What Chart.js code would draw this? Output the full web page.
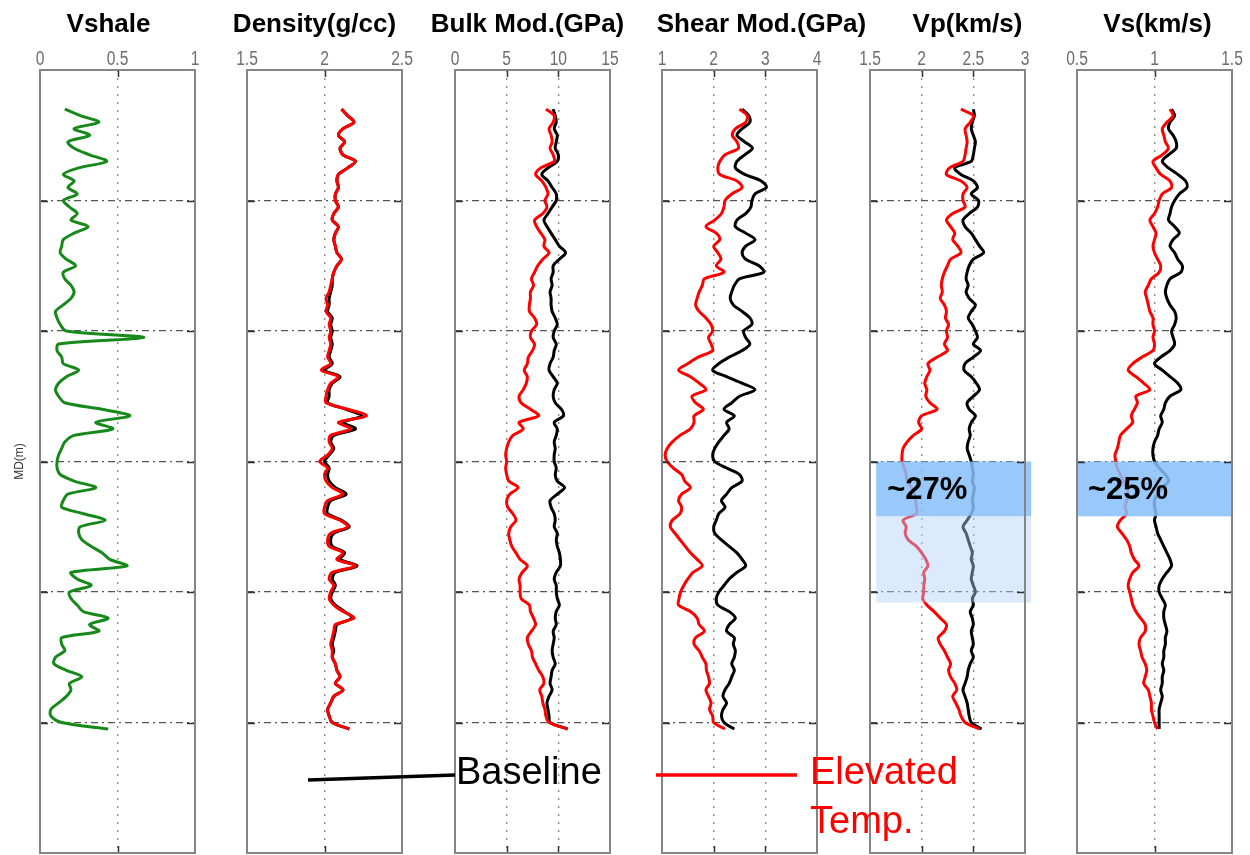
<!DOCTYPE html>
<html>
<head>
<meta charset="utf-8">
<title>Well logs</title>
<script src="https://cdn.jsdelivr.net/npm/chart.js@4.4.1/dist/chart.umd.min.js"></script>
<style>
  html, body { margin: 0; padding: 0; background: #fff; }
  #wrap { position: relative; width: 1250px; height: 855px; overflow: hidden; }
  #wrap canvas { position: absolute; top: 0; }
  #wrap svg { position: absolute; left: 0; top: 0; }
  .key { position: absolute; font-family: "Liberation Sans", Arial, sans-serif; font-size: 38px; line-height: 49px; white-space: nowrap; }
</style>
</head>
<body>
<div id="wrap"></div>
<script>
// measured depth, one sample every 0.5 m
const md = [
  3, 3.5, 4, 4.5, 5, 5.5, 6, 6.5, 7, 7.5,
  8, 8.5, 9, 9.5, 10, 10.5, 11, 11.5, 12, 12.5,
  13, 13.5, 14, 14.5, 15, 15.5, 16, 16.5, 17, 17.5,
  18, 18.5, 19, 19.5, 20, 20.5, 21, 21.5, 22, 22.5,
  23, 23.5, 24, 24.5, 25, 25.5, 26, 26.5, 27, 27.5,
  28, 28.5, 29, 29.5, 30, 30.5, 31, 31.5, 32, 32.5,
  33, 33.5, 34, 34.5, 35, 35.5, 36, 36.5, 37, 37.5,
  38, 38.5, 39, 39.5, 40, 40.5, 41, 41.5, 42, 42.5,
  43, 43.5, 44, 44.5, 45, 45.5, 46, 46.5, 47, 47.5,
  48, 48.5, 49, 49.5, 50, 50.5
];

const vshale = [
  0.16, 0.26, 0.38, 0.22, 0.32, 0.18, 0.22, 0.32, 0.43, 0.25,
  0.15, 0.22, 0.18, 0.24, 0.15, 0.19, 0.24, 0.20, 0.31, 0.22,
  0.15, 0.14, 0.13, 0.17, 0.23, 0.15, 0.16, 0.20, 0.22, 0.20,
  0.15, 0.10, 0.11, 0.13, 0.17, 0.67, 0.12, 0.11, 0.14, 0.15,
  0.25, 0.17, 0.12, 0.10, 0.12, 0.16, 0.40, 0.58, 0.36, 0.47,
  0.22, 0.16, 0.14, 0.12, 0.11, 0.11, 0.13, 0.22, 0.36, 0.18,
  0.15, 0.14, 0.28, 0.42, 0.26, 0.25, 0.27, 0.33, 0.40, 0.45,
  0.56, 0.20, 0.24, 0.33, 0.19, 0.20, 0.24, 0.28, 0.44, 0.32,
  0.38, 0.14, 0.14, 0.16, 0.10, 0.09, 0.17, 0.27, 0.19, 0.20,
  0.17, 0.12, 0.07, 0.07, 0.14, 0.44
];

// density (g/cc)
const densHot = [
  2.11, 2.15, 2.19, 2.12, 2.09, 2.13, 2.10, 2.12, 2.20, 2.15,
  2.09, 2.08, 2.09, 2.07, 2.07, 2.09, 2.06, 2.05, 2.09, 2.07,
  2.06, 2.07, 2.08, 2.11, 2.08, 2.06, 2.05, 2.04, 2.03, 2.01,
  2.02, 2.01, 2.04, 2.03, 2.04, 2.03, 2.04, 2.03, 2.02, 2.04,
  1.98, 2.09, 2.04, 2.02, 2.01, 2.01, 2.15, 2.27, 2.09, 2.17,
  2.04, 2.03, 2.05, 2.02, 1.97, 2.02, 2.00, 2.01, 2.05, 2.12,
  2.02, 2.00, 2.00, 2.10, 2.15, 2.04, 2.02, 2.03, 2.12, 2.08,
  2.20, 2.05, 2.03, 2.06, 2.04, 2.03, 2.06, 2.12, 2.19, 2.07,
  2.06, 2.05, 2.04, 2.05, 2.05, 2.07, 2.08, 2.10, 2.07, 2.12,
  2.06, 2.04, 2.02, 2.03, 2.05, 2.16
];
const densBase = [
  2.11, 2.15, 2.19, 2.12, 2.09, 2.13, 2.10, 2.12, 2.20, 2.15,
  2.09, 2.08, 2.09, 2.07, 2.07, 2.09, 2.06, 2.05, 2.09, 2.07,
  2.06, 2.07, 2.08, 2.11, 2.08, 2.06, 2.05, 2.05, 2.04, 2.03,
  2.03, 2.02, 2.05, 2.04, 2.05, 2.04, 2.05, 2.04, 2.03, 2.05,
  2.00, 2.10, 2.05, 2.03, 2.03, 2.02, 2.14, 2.24, 2.12, 2.20,
  2.06, 2.04, 2.06, 2.03, 2.00, 2.03, 2.02, 2.03, 2.07, 2.14,
  2.04, 2.02, 2.02, 2.11, 2.16, 2.06, 2.04, 2.05, 2.13, 2.10,
  2.21, 2.07, 2.05, 2.07, 2.05, 2.04, 2.07, 2.13, 2.18, 2.08,
  2.07, 2.06, 2.05, 2.06, 2.05, 2.07, 2.08, 2.10, 2.07, 2.12,
  2.06, 2.04, 2.02, 2.03, 2.05, 2.16
];

// bulk modulus (GPa)
const bulkHot = [
  8.8, 9.6, 9.5, 9.1, 9.3, 9.4, 9.2, 9.5, 9.6, 8.3,
  7.8, 8.4, 8.8, 9.0, 8.7, 8.9, 8.5, 7.7, 7.9, 8.3,
  8.7, 8.6, 9.1, 8.5, 8.0, 7.7, 7.4, 7.6, 7.3, 7.3,
  7.2, 7.2, 7.7, 7.9, 7.4, 7.3, 7.7, 7.5, 7.1, 7.0,
  6.7, 7.0, 6.9, 6.6, 6.2, 6.4, 7.3, 8.1, 6.2, 6.6,
  5.6, 5.2, 5.0, 4.9, 5.0, 4.9, 5.0, 5.2, 6.1, 5.3,
  5.0, 5.1, 5.6, 5.9, 5.4, 5.2, 5.3, 5.5, 5.9, 6.3,
  7.0, 6.5, 6.2, 6.3, 6.3, 6.4, 7.2, 7.3, 7.6, 7.8,
  7.4, 7.0, 7.1, 7.4, 7.5, 7.8, 8.1, 8.5, 8.6, 8.2,
  8.4, 8.5, 8.7, 8.8, 9.1, 10.9
];
const bulkBase = [
  9.5, 9.7, 9.8, 9.6, 9.9, 9.8, 9.7, 10.0, 9.9, 9.0,
  8.4, 9.0, 9.4, 9.8, 9.8, 9.4, 9.0, 8.6, 8.9, 9.3,
  9.7, 10.1, 10.7, 10.1, 9.5, 9.5, 9.3, 9.4, 9.2, 9.3,
  9.3, 9.4, 9.7, 9.9, 9.6, 9.5, 9.8, 9.6, 9.5, 9.2,
  9.1, 9.5, 9.9, 9.6, 9.5, 9.7, 10.3, 10.5, 9.6, 9.9,
  9.8, 9.6, 9.7, 9.6, 9.6, 9.8, 9.7, 9.9, 10.6, 9.9,
  9.2, 9.3, 9.6, 9.7, 9.6, 9.9, 9.8, 9.9, 10.1, 10.2,
  10.2, 9.8, 9.6, 9.8, 9.8, 9.9, 10.1, 9.8, 9.7, 9.8,
  9.5, 9.6, 9.5, 9.4, 9.5, 9.7, 9.4, 9.3, 9.2, 9.4,
  9.1, 8.9, 9.0, 9.1, 9.2, 10.9
];

// shear modulus (GPa)
const shearHot = [
  2.50, 2.65, 2.62, 2.42, 2.36, 2.45, 2.48, 2.22, 2.12, 2.08,
  2.12, 2.45, 2.55, 2.35, 2.22, 2.20, 2.15, 2.02, 1.85, 2.05,
  2.12, 2.00, 2.08, 2.14, 2.05, 2.20, 1.82, 1.78, 1.72, 1.68,
  1.65, 1.72, 1.85, 1.95, 1.98, 1.90, 1.95, 1.98, 1.70, 1.50,
  1.32, 1.55, 1.72, 1.85, 1.58, 1.65, 1.80, 1.62, 1.62, 1.55,
  1.35, 1.20, 1.10, 1.06, 1.10, 1.22, 1.38, 1.44, 1.55, 1.38,
  1.32, 1.38, 1.35, 1.20, 1.16, 1.25, 1.35, 1.45, 1.55, 1.68,
  1.78, 1.60, 1.50, 1.42, 1.36, 1.33, 1.32, 1.55, 1.68, 1.72,
  1.82, 1.65, 1.62, 1.72, 1.78, 1.85, 1.86, 1.90, 1.92, 1.85,
  1.90, 1.95, 1.92, 1.98, 2.00, 2.22
];
const shearBase = [
  2.55, 2.68, 2.70, 2.55, 2.45, 2.60, 2.75, 2.60, 2.45, 2.42,
  2.60, 2.92, 3.02, 2.80, 2.74, 2.72, 2.62, 2.45, 2.42, 2.62,
  2.80, 2.62, 2.55, 2.62, 2.88, 2.97, 2.50, 2.40, 2.35, 2.32,
  2.38, 2.55, 2.70, 2.74, 2.58, 2.62, 2.70, 2.55, 2.30, 2.10,
  1.98, 2.25, 2.55, 2.80, 2.50, 2.35, 2.20, 2.40, 2.25, 2.30,
  2.20, 2.10, 2.02, 1.98, 2.02, 2.25, 2.50, 2.55, 2.35, 2.25,
  2.15, 2.22, 2.10, 2.05, 2.00, 2.02, 2.15, 2.30, 2.45, 2.55,
  2.62, 2.45, 2.30, 2.20, 2.10, 2.05, 2.08, 2.30, 2.42, 2.30,
  2.25, 2.40, 2.38, 2.42, 2.40, 2.35, 2.40, 2.35, 2.30, 2.22,
  2.18, 2.25, 2.18, 2.15, 2.20, 2.40
];

// P-wave velocity (km/s)
const vpHot = [
  2.38, 2.50, 2.47, 2.42, 2.43, 2.44, 2.43, 2.42, 2.40, 2.27,
  2.24, 2.38, 2.44, 2.40, 2.40, 2.42, 2.30, 2.24, 2.28, 2.32,
  2.30, 2.35, 2.38, 2.28, 2.25, 2.22, 2.20, 2.19, 2.20, 2.18,
  2.22, 2.24, 2.23, 2.26, 2.24, 2.25, 2.22, 2.25, 2.15, 2.06,
  2.08, 2.05, 2.03, 2.05, 2.04, 2.08, 2.15, 2.00, 1.97, 2.00,
  1.92, 1.86, 1.82, 1.81, 1.81, 1.83, 1.85, 1.86, 1.90, 1.93,
  1.94, 1.95, 1.95, 1.82, 1.85, 1.84, 1.87, 1.95, 2.00, 2.04,
  2.06, 2.02, 2.03, 2.02, 2.02, 2.01, 2.05, 2.12, 2.18, 2.24,
  2.22, 2.16, 2.18, 2.22, 2.25, 2.28, 2.26, 2.28, 2.32, 2.34,
  2.30, 2.33, 2.36, 2.38, 2.42, 2.56
];
const vpBase = [
  2.50, 2.51, 2.49, 2.48, 2.50, 2.52, 2.51, 2.50, 2.48, 2.32,
  2.38, 2.50, 2.54, 2.48, 2.55, 2.54, 2.46, 2.40, 2.42, 2.48,
  2.52, 2.56, 2.60, 2.50, 2.46, 2.44, 2.43, 2.45, 2.43, 2.46,
  2.52, 2.48, 2.45, 2.49, 2.52, 2.54, 2.50, 2.57, 2.50, 2.42,
  2.41, 2.48, 2.53, 2.56, 2.50, 2.44, 2.46, 2.52, 2.48, 2.46,
  2.47, 2.45, 2.44, 2.46, 2.48, 2.49, 2.50, 2.49, 2.51, 2.50,
  2.49, 2.50, 2.48, 2.44, 2.40, 2.43, 2.45, 2.47, 2.49, 2.48,
  2.50, 2.49, 2.48, 2.50, 2.52, 2.49, 2.50, 2.47, 2.49, 2.50,
  2.48, 2.49, 2.50, 2.48, 2.50, 2.47, 2.45, 2.44, 2.42, 2.40,
  2.42, 2.44, 2.45, 2.46, 2.48, 2.58
];

// S-wave velocity (km/s)
const vsHot = [
  1.10, 1.12, 1.08, 1.05, 1.06, 1.07, 1.09, 1.05, 0.99, 1.01,
  1.04, 1.10, 1.11, 1.05, 1.03, 1.02, 1.00, 0.97, 0.99, 1.01,
  1.00, 0.99, 1.00, 1.02, 1.04, 1.03, 0.98, 0.96, 0.94, 0.95,
  0.96, 0.97, 0.99, 0.99, 1.00, 0.99, 1.00, 0.99, 0.92, 0.86,
  0.83, 0.88, 0.93, 0.97, 0.88, 0.89, 0.87, 0.85, 0.86, 0.82,
  0.78, 0.77, 0.76, 0.745, 0.75, 0.76, 0.78, 0.80, 0.82, 0.83,
  0.82, 0.81, 0.82, 0.78, 0.76, 0.79, 0.82, 0.84, 0.85, 0.87,
  0.90, 0.86, 0.84, 0.83, 0.84, 0.85, 0.86, 0.88, 0.91, 0.94,
  0.94, 0.91, 0.90, 0.91, 0.92, 0.94, 0.95, 0.94, 0.93, 0.96,
  0.97, 0.98, 0.98, 0.99, 1.00, 1.02
];
const vsBase = [
  1.11, 1.13, 1.10, 1.09, 1.12, 1.14, 1.14, 1.09, 1.05, 1.09,
  1.15, 1.20, 1.21, 1.16, 1.13, 1.11, 1.10, 1.09, 1.13, 1.16,
  1.12, 1.10, 1.13, 1.15, 1.18, 1.17, 1.10, 1.08, 1.07, 1.08,
  1.10, 1.13, 1.14, 1.13, 1.11, 1.12, 1.13, 1.10, 1.04, 1.00,
  1.05, 1.10, 1.15, 1.17, 1.10, 1.07, 1.06, 1.04, 1.05, 1.03,
  1.02, 1.00, 0.99, 0.99, 1.00, 1.03, 1.07, 1.09, 1.05, 1.02,
  1.00, 1.00, 1.01, 1.00, 1.01, 1.02, 1.04, 1.06, 1.08, 1.10,
  1.11, 1.08, 1.05, 1.03, 1.03, 1.05, 1.07, 1.06, 1.06, 1.07,
  1.08, 1.07, 1.07, 1.06, 1.06, 1.05, 1.06, 1.05, 1.05, 1.04,
  1.05, 1.04, 1.03, 1.03, 1.03, 1.03
];

// zone of velocity drop (depths in m) and its labels
const zoneDepths = [30, 34.2, 40.8];
const zoneLabels = ['~27%', '~25%'];

const GREEN = '#16891a', RED = '#ff0000', BLACK = '#000000';
const PANEL_W = 155, SIDE = 60, TOP = 70;

const tracks = [
  { title: 'Vshale', left: 40, dx: -9, min: 0, max: 1, step: 0.5,
    series: [{ data: vshale, color: GREEN }] },
  { title: 'Density(g/cc)', left: 247, dx: -10, min: 1.5, max: 2.5, step: 0.5,
    series: [{ data: densHot, color: RED }, { data: densBase, color: BLACK }] },
  { title: 'Bulk Mod.(GPa)', left: 455, dx: -5, min: 0, max: 15, step: 5,
    series: [{ data: bulkHot, color: RED }, { data: bulkBase, color: BLACK }] },
  { title: 'Shear Mod.(GPa)', left: 662, dx: 22, min: 1, max: 4, step: 1,
    series: [{ data: shearHot, color: RED }, { data: shearBase, color: BLACK }] },
  { title: 'Vp(km/s)', left: 870, dx: 20, min: 1.5, max: 3, step: 0.5,
    series: [{ data: vpHot, color: RED }, { data: vpBase, color: BLACK }],
    zones: [
      { from: zoneDepths[0], to: zoneDepths[1], xFrom: 1.56, xTo: 3.06, color: 'rgba(135,191,250,0.85)', label: zoneLabels[0] },
      { from: zoneDepths[1], to: zoneDepths[2], xFrom: 1.56, xTo: 3.06, color: 'rgba(175,208,248,0.45)' }
    ] },
  { title: 'Vs(km/s)', left: 1077, dx: 3, min: 0.5, max: 1.5, step: 0.5,
    series: [{ data: vsHot, color: RED }, { data: vsBase, color: BLACK }],
    zones: [
      { from: zoneDepths[0], to: zoneDepths[1], xFrom: 0.5, xTo: 1.5, color: 'rgba(135,191,250,0.85)', label: zoneLabels[1] }
    ] }
];

const isEdge = (scale, v) => Math.abs(v - scale.min) < 1e-9 || Math.abs(v - scale.max) < 1e-9;

// box around the track, short inward tick marks and narrow tick labels on top
const framePlugin = {
  id: 'frame',
  afterDraw(chart) {
    const { ctx, chartArea: a, scales: { x, y } } = chart;
    ctx.save();
    ctx.strokeStyle = '#333';
    ctx.lineWidth = 1.5;
    ctx.beginPath();
    x.ticks.forEach(t => {
      if (isEdge(x, t.value)) return;
      const px = Math.round(x.getPixelForValue(t.value)) + 0.5;
      ctx.moveTo(px, a.top); ctx.lineTo(px, a.top + 7);
      ctx.moveTo(px, a.bottom); ctx.lineTo(px, a.bottom - 7);
    });
    y.ticks.forEach(t => {
      if (isEdge(y, t.value)) return;
      const py = Math.round(y.getPixelForValue(t.value)) + 0.5;
      ctx.moveTo(a.left, py); ctx.lineTo(a.left + 8, py);
      ctx.moveTo(a.right, py); ctx.lineTo(a.right - 8, py);
    });
    ctx.stroke();
    ctx.strokeStyle = '#858585';
    ctx.lineWidth = 2;
    ctx.strokeRect(a.left, a.top, a.right - a.left, a.bottom - a.top);

    ctx.font = '20px "Liberation Sans", Arial, sans-serif';
    ctx.fillStyle = '#6e6e6e';
    ctx.textAlign = 'center';
    ctx.textBaseline = 'alphabetic';
    x.ticks.forEach(t => {
      ctx.save();
      ctx.translate(x.getPixelForValue(t.value), a.top - 5);
      ctx.scale(0.78, 1);
      ctx.fillText(String(+t.value.toFixed(2)), 0, 0);
      ctx.restore();
    });
    ctx.restore();
  }
};

const titlePlugin = {
  id: 'trackTitle',
  afterDraw(chart, args, opts) {
    const { ctx, chartArea: a } = chart;
    ctx.save();
    ctx.font = 'bold 26px "Liberation Sans", Arial, sans-serif';
    ctx.fillStyle = '#000';
    ctx.textAlign = 'center';
    ctx.textBaseline = 'middle';
    ctx.fillText(opts.text, (a.left + a.right) / 2 + opts.dx, 25);
    ctx.restore();
  }
};

// shaded depth zones with the percentage drop written in them
const zonePlugin = {
  id: 'zones',
  afterDatasetsDraw(chart, args, opts) {
    if (!opts.items) return;
    const { ctx, scales: { x, y } } = chart;
    ctx.save();
    opts.items.forEach(z => {
      const x0 = x.getPixelForValue(z.xFrom), x1 = x.getPixelForValue(z.xTo);
      const y0 = y.getPixelForValue(z.from), y1 = y.getPixelForValue(z.to);
      ctx.fillStyle = z.color;
      ctx.fillRect(x0, y0, x1 - x0, y1 - y0);
      if (z.label) {
        ctx.font = 'bold 31px "Liberation Sans", Arial, sans-serif';
        ctx.fillStyle = '#000';
        ctx.textAlign = 'left';
        ctx.textBaseline = 'middle';
        ctx.fillText(z.label, x0 + 11, (y0 + y1) / 2 + 2);
      }
    });
    ctx.restore();
  }
};

const wrap = document.getElementById('wrap');

tracks.forEach((t, i) => {
  const first = i === 0;
  const axisW = first ? 40 : 0;
  const padL = first ? 0 : SIDE;
  const canvas = document.createElement('canvas');
  canvas.width = padL + axisW + PANEL_W + SIDE;
  canvas.height = 855;
  canvas.style.left = (t.left - axisW - padL) + 'px';
  wrap.appendChild(canvas);

  new Chart(canvas, {
    type: 'line',
    data: {
      datasets: t.series.map(s => ({
        data: md.map((d, k) => ({ x: s.data[k], y: d })),
        borderColor: s.color,
        borderWidth: 3,
        pointRadius: 0,
        tension: 0.3,
        fill: false
      }))
    },
    options: {
      responsive: false,
      animation: false,
      indexAxis: 'y',
      events: [],
      layout: { padding: { left: padL, right: SIDE, top: 0, bottom: 2 } },
      plugins: {
        legend: { display: false },
        tooltip: { enabled: false },
        trackTitle: { text: t.title, dx: t.dx },
        zones: { items: t.zones || null }
      },
      scales: {
        x: {
          type: 'linear',
          position: 'top',
          min: t.min,
          max: t.max,
          ticks: { stepSize: t.step, display: false },
          grid: {
            drawTicks: false,
            lineWidth: 1.4,
            color: c => (c.tick && isEdge(c.scale, c.tick.value)) ? 'rgba(0,0,0,0)' : '#8c8c8c'
          },
          border: { display: false, dash: [2, 6] },
          afterFit: s => { s.height = TOP; }
        },
        y: {
          type: 'linear',
          reverse: true,
          min: 0,
          max: 60,
          ticks: { stepSize: 10, display: false },
          grid: {
            drawTicks: false,
            lineWidth: 1.3,
            color: c => (c.tick && isEdge(c.scale, c.tick.value)) ? 'rgba(0,0,0,0)' : '#555'
          },
          border: { display: false, dash: [7, 4, 2, 4] },
          title: {
            display: first,
            text: 'MD(m)',
            color: '#333',
            font: { family: '"Liberation Sans", Arial, sans-serif', size: 12 },
            padding: { top: 12, bottom: 0 }
          },
          afterFit: s => { s.width = axisW; }
        }
      }
    },
    plugins: [framePlugin, titlePlugin, zonePlugin]
  });
});

// legend: baseline vs elevated temperature
wrap.insertAdjacentHTML('beforeend', `
  <svg width="1250" height="855">
    <line x1="308" y1="780" x2="455" y2="775" stroke="${BLACK}" stroke-width="3.5"/>
    <line x1="656" y1="775" x2="797" y2="775" stroke="${RED}" stroke-width="3.5"/>
  </svg>
  <div class="key" style="left:456px; top:747px; color:${BLACK}">Baseline</div>
  <div class="key" style="left:810px; top:747px; color:${RED}">Elevated<br>Temp.</div>
`);
</script>
</body>
</html>
